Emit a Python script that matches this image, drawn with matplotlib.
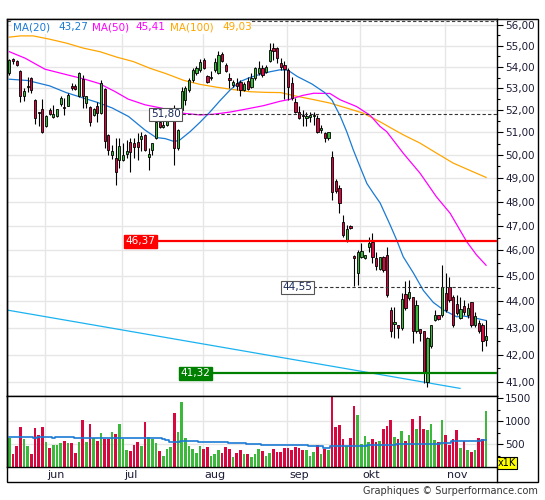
import numpy as np
import matplotlib
matplotlib.use("Agg")
import matplotlib.pyplot as plt
import matplotlib.transforms as mtransforms
from matplotlib.patches import Rectangle
from matplotlib.lines import Line2D
from matplotlib.ticker import FixedLocator, FuncFormatter, NullFormatter

#daily candles, index 0 = first session on the chart
opens = [53.70, 54.35, 54.28, 53.81, 52.62, 53.05, 53.47, 52.47, 51.89, 52.04,
         51.26, 52.01, 51.68, 51.71, 52.28, 52.15, 52.19, 53.11, 53.11, 52.62,
         53.42, 52.34, 52.13, 51.78, 52.19, 51.86, 52.95, 50.89, 50.00, 49.86,
         49.79, 49.79, 50.05, 50.59, 50.53, 50.59, 50.69, 50.89, 49.90, 50.22,
         50.74, 51.48, 51.23, 51.33, 51.65, 51.78, 50.30, 52.01, 52.47, 52.92,
         53.39, 53.70, 53.86, 54.33, 53.57, 53.47, 53.86, 53.70, 54.60, 54.09,
         53.50, 53.15, 53.23, 53.31, 52.92, 53.34, 53.07, 53.47, 53.70, 53.93,
         53.78, 54.28, 54.89, 54.89, 54.17, 54.09, 53.86, 53.23, 52.39, 51.93,
         51.78, 51.64, 51.68, 51.71, 51.64, 51.11, 50.99, 50.74, 49.93, 48.88,
         48.57, 47.16, 46.43, 46.98, 45.78, 45.11, 45.73, 45.69, 46.15, 46.36,
         45.69, 45.25, 45.75, 45.82, 43.67, 43.13, 43.11, 42.98, 44.28, 44.12,
         44.18, 42.86, 42.94, 42.86, 41.02, 42.30, 43.30, 43.49, 43.49, 44.34,
         44.57, 44.18, 43.90, 43.36, 43.82, 43.49, 43.99, 43.11, 43.17, 43.11,
         42.53]
highs = [54.38, 54.42, 54.33, 53.86, 53.01, 53.51, 53.54, 52.50, 51.92, 52.50,
         51.78, 52.09, 52.24, 52.05, 52.62, 52.54, 52.80, 53.23, 53.20, 53.76,
         53.62, 52.65, 52.19, 52.10, 52.39, 53.39, 53.01, 50.93, 50.44, 50.75,
         50.75, 50.53, 50.66, 50.75, 50.75, 50.99, 51.03, 50.91, 50.31, 50.53,
         51.64, 51.71, 51.64, 51.65, 52.01, 52.24, 51.15, 53.07, 53.11, 53.48,
         53.93, 54.04, 54.38, 54.42, 53.60, 53.81, 54.41, 54.76, 54.70, 54.17,
         53.70, 53.39, 53.47, 53.39, 53.31, 53.54, 53.70, 54.01, 54.28, 54.09,
         54.09, 55.13, 55.13, 54.96, 54.41, 54.28, 53.95, 53.54, 52.54, 52.19,
         52.01, 51.93, 51.93, 51.93, 51.78, 51.33, 51.02, 51.03, 50.19, 48.97,
         48.71, 47.45, 47.04, 47.04, 45.82, 46.02, 46.29, 45.82, 46.56, 46.70,
         45.94, 45.74, 45.78, 46.14, 43.80, 43.80, 43.11, 44.32, 44.77, 44.83,
         44.18, 44.05, 42.96, 42.86, 42.67, 43.11, 43.67, 43.49, 45.43, 45.10,
         44.96, 44.25, 44.25, 44.18, 44.05, 43.93, 43.99, 43.61, 43.30, 43.17,
         43.30]
lows = [53.64, 54.14, 54.04, 52.35, 52.43, 52.84, 52.80, 51.38, 51.29, 50.96,
        51.24, 51.78, 51.64, 51.69, 52.19, 51.78, 52.17, 52.92, 52.92, 52.60,
        52.10, 52.10, 51.26, 51.74, 51.44, 51.83, 50.31, 50.00, 49.83, 48.71,
        49.45, 49.74, 49.87, 49.28, 49.87, 49.79, 50.19, 50.19, 49.35, 50.00,
        50.69, 51.18, 51.18, 51.29, 51.56, 49.57, 50.22, 51.93, 52.24, 52.83,
        53.31, 53.62, 53.78, 53.90, 53.23, 53.39, 53.78, 53.65, 54.25, 53.78,
        53.00, 53.07, 52.92, 52.62, 52.88, 52.92, 53.01, 53.39, 53.62, 53.54,
        53.70, 54.25, 54.33, 54.17, 53.86, 52.51, 52.47, 52.47, 51.86, 51.59,
        51.26, 51.26, 51.48, 51.33, 50.96, 50.96, 50.59, 50.66, 48.08, 48.37,
        47.54, 46.56, 46.35, 46.87, 44.60, 44.64, 45.70, 45.66, 45.95, 45.50,
        45.23, 45.23, 45.15, 44.17, 42.67, 42.62, 42.62, 42.92, 43.67, 44.05,
        42.42, 42.81, 42.49, 40.96, 40.84, 42.24, 43.27, 43.30, 43.42, 43.61,
        43.99, 43.04, 43.49, 43.32, 43.49, 43.36, 43.04, 43.04, 42.80, 42.14,
        42.30]
closes = [54.33, 54.28, 54.07, 52.62, 52.88, 53.11, 52.92, 51.64, 51.85, 51.03,
          51.74, 51.83, 51.83, 52.04, 52.54, 52.11, 52.69, 53.00, 52.98, 53.70,
          52.62, 52.62, 51.48, 52.04, 51.86, 53.23, 50.63, 50.22, 50.19, 49.28,
          50.40, 50.00, 50.18, 50.15, 50.37, 50.37, 50.84, 50.22, 50.05, 50.53,
          51.44, 51.23, 51.33, 51.59, 51.74, 50.30, 51.11, 52.89, 53.00, 53.39,
          53.86, 53.93, 54.25, 53.93, 53.31, 53.54, 54.25, 54.57, 54.28, 53.81,
          53.39, 53.31, 53.12, 52.92, 53.19, 52.97, 53.47, 53.93, 53.93, 53.62,
          54.01, 54.80, 54.77, 54.41, 54.01, 53.89, 53.07, 52.54, 51.89, 51.64,
          51.74, 51.71, 51.78, 51.78, 51.03, 51.21, 50.74, 51.00, 48.43, 48.46,
          47.95, 46.61, 46.85, 46.91, 45.70, 45.94, 45.99, 45.80, 46.32, 45.75,
          45.36, 45.73, 45.23, 44.25, 42.86, 43.22, 42.98, 44.08, 43.74, 44.38,
          42.86, 43.86, 42.80, 41.33, 42.61, 43.11, 43.49, 43.32, 44.54, 43.67,
          44.05, 43.11, 43.55, 43.70, 43.61, 43.74, 43.11, 43.45, 42.86, 42.49,
          42.70]
#volume in thousands
volumes = [632, 279, 456, 875, 610, 456, 279, 853, 699, 875,
           544, 412, 478, 478, 522, 566, 522, 522, 301, 544,
           1029, 544, 941, 632, 566, 743, 610, 610, 765, 721,
           941, 610, 368, 346, 478, 544, 456, 985, 654, 610,
           522, 346, 257, 390, 434, 1184, 765, 1426, 632, 456,
           390, 301, 456, 390, 434, 257, 279, 368, 301, 434,
           390, 235, 301, 368, 279, 279, 235, 279, 390, 346,
           257, 301, 390, 324, 324, 412, 412, 368, 434, 412,
           368, 368, 257, 324, 478, 279, 390, 368, 1600, 875,
           919, 610, 456, 632, 1338, 1140, 500, 676, 544, 610,
           544, 566, 831, 897, 1029, 654, 610, 787, 566, 699,
           1051, 831, 1118, 831, 809, 941, 588, 544, 1029, 699,
           478, 610, 809, 412, 566, 368, 324, 368, 632, 610,
           1228]
vol_ma = [669, 669, 669, 669, 669, 669, 669, 647, 669, 669,
          669, 669, 645, 669, 669, 669, 669, 669, 647, 647,
          647, 647, 647, 647, 647, 647, 647, 647, 647, 647,
          647, 647, 647, 647, 647, 647, 647, 647, 647, 647,
          647, 647, 625, 590, 560, 560, 560, 580, 580, 580,
          580, 580, 560, 560, 560, 560, 560, 560, 560, 560,
          537, 537, 537, 537, 537, 515, 515, 515, 515, 493,
          493, 493, 493, 493, 493, 493, 475, 475, 475, 475,
          475, 475, 460, 460, 460, 460, 425, 425, 455, 455,
          455, 455, 455, 455, 470, 470, 470, 470, 485, 485,
          485, 485, 485, 485, 485, 485, 500, 500, 500, 500,
          500, 500, 515, 515, 515, 515, 515, 515, 535, 535,
          535, 570, 570, 570, 570, 570, 570, 570, 570, 600,
          600]

#moving averages (session index, value)
ma20_x = [0, 5, 11, 15.5, 20, 24, 28, 32.5, 37, 40, 42.5, 45, 46.5, 49.3, 52,
          54.7, 57.4, 60.2, 62.9, 65.6, 68.4, 71.1, 73.8, 76, 78.5, 82.5, 86,
          88, 90.2, 92, 93.8, 95.6, 97.5, 99.3, 101.1, 103.8, 105.6, 107.4,
          110.2, 112.9, 115.6, 118.4, 122, 123.8, 126.5, 130]
ma20 = [53.42, 53.36, 53.11, 52.80, 52.56, 52.35, 52.10, 51.71, 51.10, 50.77,
        50.72, 50.59, 50.66, 51.03, 51.45, 51.91, 52.42, 52.92, 53.31, 53.50,
        53.65, 53.77, 53.86, 53.84, 53.55, 53.20, 52.80, 52.45, 51.74, 51.03,
        50.22, 49.50, 48.77, 48.35, 47.95, 47.05, 46.43, 45.75, 45.10, 44.42,
        43.96, 43.67, 43.41, 43.44, 43.38, 43.27]
ma50_x = [0, 4.3, 9.7, 15.2, 20.6, 24.5, 28.8, 32.4, 37, 41.5, 46.5, 52, 55.6,
          60.2, 64.7, 69.3, 73.8, 76.5, 80, 83, 87.4, 90.2, 94.7, 98.4, 101.1,
          102.9, 107.4, 112, 116.5, 120.2, 124.7, 127.4, 130]
ma50 = [54.72, 54.41, 53.89, 53.65, 53.42, 53.22, 52.85, 52.50, 52.24, 52.09,
        51.87, 51.78, 51.81, 51.91, 52.05, 52.20, 52.40, 52.49, 52.67, 52.77,
        52.76, 52.47, 52.16, 51.76, 51.26, 51.03, 50.08, 49.21, 48.20, 47.52,
        46.36, 45.82, 45.41]
ma100_x = [0, 3, 6.5, 11, 15.6, 20.2, 24.7, 29.3, 33.8, 38.4, 42.9, 47.5, 52,
           56.5, 61, 65.6, 70, 74, 78.4, 82.9, 87.4, 92, 96.5, 101, 104, 107.4,
           112, 116.5, 121, 125.6, 130]
ma100 = [55.42, 55.48, 55.48, 55.32, 55.13, 54.89, 54.72, 54.46, 54.25, 53.93,
         53.67, 53.37, 53.18, 53.05, 52.94, 52.84, 52.81, 52.80, 52.63, 52.48,
         52.32, 52.09, 51.86, 51.48, 51.20, 50.89, 50.52, 50.08, 49.65, 49.33,
         49.03]
ma_names = ['MA(20)', 'MA(50)', 'MA(100)']
ma_last = [43.27, 45.41, 49.03]

#trend line and price levels
trend_x = [-0.72, 122.9]
trend_y = [43.67, 40.78]
top_level = 56.2
level_red = 46.37
level_green = 41.32
level_a = 51.80
level_b = 44.55

months = ['jun', 'jul', 'aug', 'sep', 'okt', 'nov']
month_start = [10, 31, 53, 76, 96, 119]
price_ticks = list(range(41, 57))
vol_ticks = [500, 1000, 1500]

RED = '#d7083f'
GREEN = '#3cb93c'
BLUE = '#1a7ad4'
MAGENTA = '#ff00ff'
ORANGE = '#ffa500'
GRID = '#e6e6e6'
TXT = '#1c1c36'
FS = 7.5

W, H = 545, 500
fig = plt.figure(figsize=(W / 100, H / 100), dpi=100)

def px_rect(x0, y0, x1, y1):
	#pixel box (origin top-left) -> figure fraction
	return [x0 / W, 1 - y1 / H, (x1 - x0) / W, (y1 - y0) / H]

ax = fig.add_axes(px_rect(6.7, 19.3, 496.7, 395.7))
axv = fig.add_axes(px_rect(6.7, 395.7, 496.7, 467.3), sharex=ax)

idx = np.arange(len(closes))
o = np.array(opens)
c = np.array(closes)
up = c >= o
colors = np.where(up, GREEN, RED)

#*******************************Price panel*************************************
ax.set_yscale('log')
ax.set_xlim(-0.72, 132.9)
ax.set_ylim(40.52, 56.29)
for p in price_ticks:
	ax.axhline(p, color=GRID, lw=1, zorder=0)
for m in month_start:
	ax.axvline(m - 0.3, color=GRID, lw=1, zorder=0)
	axv.axvline(m - 0.3, color=GRID, lw=1, zorder=0)

ax.hlines(top_level, -0.72, 132.9, color='#444444', lw=0.8, linestyles=(0, (3, 2)), zorder=1)
ax.plot(trend_x, trend_y, color='#1ab2f0', lw=0.9, zorder=1)
ax.plot(ma100_x, ma100, color=ORANGE, lw=0.9, zorder=2)
ax.plot(ma50_x, ma50, color=MAGENTA, lw=0.9, zorder=2)
ax.plot(ma20_x, ma20, color=BLUE, lw=0.9, zorder=2)

ax.vlines(idx, lows, highs, color='black', lw=0.8, zorder=3)
ax.bar(idx, np.abs(c - o), bottom=np.minimum(o, c), width=0.62,
	color=colors, edgecolor='black', linewidth=0.6, zorder=4)

fmt = lambda v: f"{v:.2f}".replace('.', ',')
box_white = dict(boxstyle='square,pad=0.15', fc='white', ec='#555555', lw=0.8)
ax.hlines(level_a, 47.0, 132.9, color='#333333', lw=0.8, linestyles=(0, (3, 2)), zorder=5)
ax.text(46.7, level_a, fmt(level_a), ha='right', va='center', fontsize=FS, color='#1a2a5a',
	zorder=6, bbox=box_white)
ax.hlines(level_b, 82.9, 132.9, color='#333333', lw=0.8, linestyles=(0, (3, 2)), zorder=5)
ax.text(82.6, level_b, fmt(level_b), ha='right', va='center', fontsize=FS, color='#1a2a5a',
	zorder=6, bbox=box_white)
ax.hlines(level_red, 40.2, 132.9, color='#ff0000', lw=1.6, zorder=5)
ax.text(39.9, level_red, fmt(level_red), ha='right', va='center', fontsize=FS, color='white',
	zorder=6, bbox=dict(boxstyle='square,pad=0.15', fc='#ff0000', ec='#ff0000'))
ax.hlines(level_green, 55.2, 132.9, color='#008000', lw=1.6, zorder=5)
ax.text(54.9, level_green, fmt(level_green), ha='right', va='center', fontsize=FS, color='white',
	zorder=6, bbox=dict(boxstyle='square,pad=0.15', fc='#008000', ec='#008000'))

ax.yaxis.tick_right()
ax.yaxis.set_major_locator(FixedLocator(price_ticks))
ax.yaxis.set_minor_locator(FixedLocator([p + 0.5 for p in price_ticks[:-1]]))
ax.yaxis.set_major_formatter(FuncFormatter(lambda v, pos: fmt(v)))
ax.yaxis.set_minor_formatter(NullFormatter())
ax.tick_params(axis='y', which='major', length=4, width=0.8, pad=2, labelsize=FS, labelcolor=TXT)
ax.tick_params(axis='y', which='minor', length=2, width=0.8)
ax.tick_params(axis='x', which='both', bottom=False, labelbottom=False)

#*******************************Volume panel************************************
axv.bar(idx, volumes, width=0.75, color=colors, zorder=2)
axv.step(idx, vol_ma, where='mid', color=BLUE, lw=1.2, zorder=3)
axv.set_ylim(0, 1560)
for v in vol_ticks[:-1]:
	axv.axhline(v, color=GRID, lw=1, zorder=0)
axv.yaxis.tick_right()
axv.yaxis.set_major_locator(FixedLocator(vol_ticks))
axv.yaxis.set_minor_locator(FixedLocator([250, 750, 1250]))
axv.tick_params(axis='y', which='major', length=4, width=0.8, pad=2, labelsize=FS, labelcolor=TXT)
axv.tick_params(axis='y', which='minor', length=2, width=0.8)
axv.tick_params(axis='x', which='both', bottom=False, labelbottom=False)

lbl_tr = mtransforms.offset_copy(mtransforms.blended_transform_factory(axv.transData, axv.transAxes),
	fig=fig, x=2, y=0, units='dots')
for name, m in zip(months, month_start):
	axv.text(m - 0.3, -0.108, name, transform=lbl_tr, ha='left', va='center',
		fontsize=FS + 0.5, color=TXT, clip_on=False)

for a in (ax, axv):
	for s in a.spines.values():
		s.set_linewidth(1.0)

#*******************************Frame and labels********************************
fig.add_artist(Rectangle((6.7 / W, 1 - 481.7 / H), (538.3 - 6.7) / W, (481.7 - 19.3) / H,
	transform=fig.transFigure, fill=False, ec='black', lw=1.0, zorder=10))
fig.add_artist(Line2D([496.7 / W, 496.7 / W], [1 - 481.7 / H, 1 - 467.3 / H],
	transform=fig.transFigure, color='black', lw=1.0, zorder=10))

#legend strip, white behind the text
fig.add_artist(Rectangle((12 / W, 1 - 34 / H), 238 / W, 14 / H,
	transform=fig.transFigure, fc='white', ec='none', zorder=8))
name_px = [13.3, 92, 170]
value_px = [58, 135, 222]
for name, val, col, xn, xv in zip(ma_names, ma_last, [BLUE, MAGENTA, ORANGE], name_px, value_px):
	fig.text(xn / W, 1 - 27 / H, name, color=col, fontsize=FS, ha='left', va='center', zorder=9)
	fig.text(xv / W, 1 - 27 / H, fmt(val), color=col, fontsize=FS, ha='left', va='center', zorder=9)

fig.text(507.2 / W, 1 - 463 / H, 'x1K', ha='center', va='center', fontsize=7, color='black',
	bbox=dict(boxstyle='square,pad=0.12', fc='#ffff00', ec='black', lw=0.8))
fig.text(538.3 / W, 1 - 491 / H, 'Graphiques \u00a9 Surperformance.com', ha='right', va='center',
	fontsize=7, color='#333333')

fig.savefig('out.png', dpi=100)
